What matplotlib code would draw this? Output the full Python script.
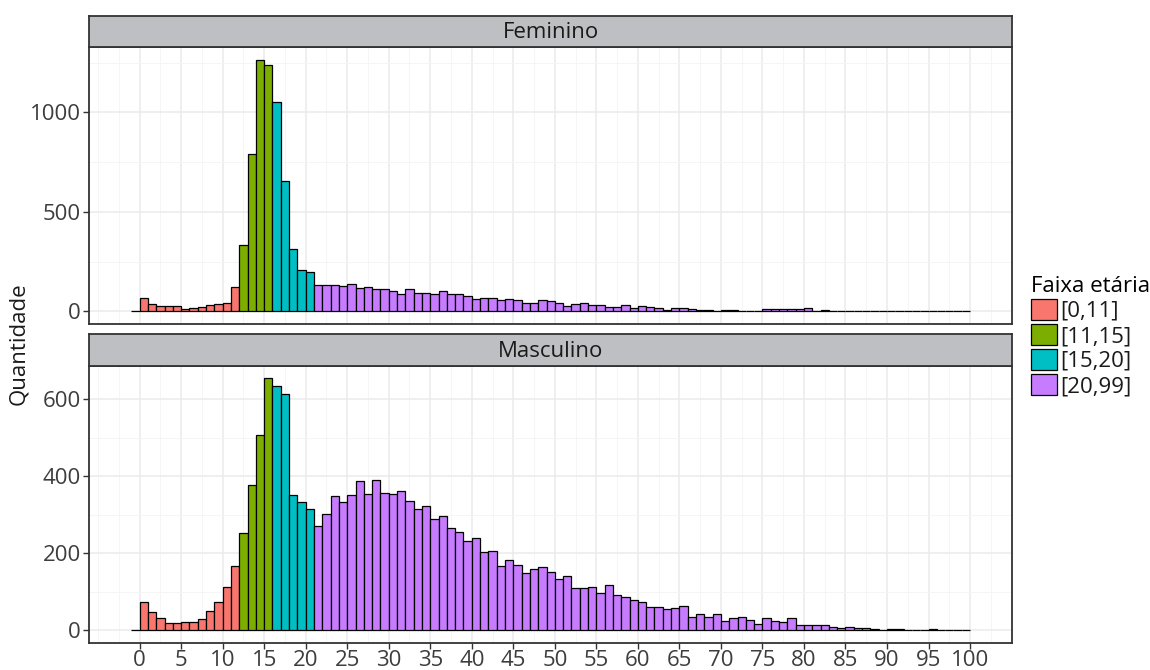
import numpy as np
import matplotlib
matplotlib.use("Agg")
import matplotlib.pyplot as plt
from matplotlib.patches import Patch
from matplotlib.ticker import MultipleLocator, FixedLocator

plt.rcParams['font.family'] = ['Open Sans', 'DejaVu Sans']

# idades (bins de largura 1, de -1 a 99)
idades = list(range(-1, 100))

feminino = [0,
    68, 35, 28, 28, 28, 10, 17, 23, 30, 35, 42, 123, 335, 793, 1265, 1238, 1050, 655, 312, 207,
    198, 135, 135, 135, 129, 136, 117, 123, 111, 111, 105, 85, 112, 95, 95, 87, 102, 87, 87, 75,
    63, 68, 68, 55, 62, 57, 43, 43, 57, 52, 42, 28, 37, 43, 30, 30, 22, 23, 33, 17,
    25, 21, 15, 9, 15, 15, 10, 5, 8, 3, 8, 8, 2, 2, 2, 10, 10, 10, 10, 10,
    16, 2, 8, 2, 2, 2, 1, 1, 1, 0, 0, 0, 0, 0, 0, 0, 0, 0, 0, 0]

masculino = [0,
    75, 49, 33, 19, 19, 22, 22, 30, 51, 75, 113, 168, 252, 377, 507, 655, 635, 614, 351, 333,
    315, 272, 303, 349, 333, 352, 387, 355, 391, 358, 355, 361, 336, 316, 323, 290, 297, 265, 255, 232,
    239, 204, 207, 168, 182, 171, 149, 159, 165, 153, 133, 142, 111, 111, 113, 98, 117, 91, 87, 79,
    75, 61, 61, 55, 58, 64, 35, 42, 34, 43, 24, 31, 34, 28, 17, 31, 25, 21, 31, 14,
    14, 14, 14, 9, 5, 9, 5, 5, 3, 1, 3, 3, 1, 1, 1, 3, 1, 1, 1, 1]

faixas = ['[0,11]', '[11,15]', '[15,20]', '[20,99]']
cores = ['#F8766D', '#7CAE00', '#00BFC4', '#C77CFF']
limites = [11, 15, 20, 99]


def cor_idade(a):
    for lim, c in zip(limites, cores):
        if a <= lim:
            return c
    return cores[-1]


bar_cores = [cor_idade(a) for a in idades]

fig = plt.figure(figsize=(11.5, 6.7), dpi=100)

x0, w = 0.0777, 0.8023
paineis = [
    ('Feminino', feminino, 0.5164, 0.4135, 0.9299, [0, 500, 1000], 250),
    ('Masculino', masculino, 0.0403, 0.4139, 0.4542, [0, 200, 400, 600], 100),
]

fs = 16
txt_col = '#3d3d3d'
borda = '#333333'

for i, (nome, vals, yb, h, ys, yticks, ymin_step) in enumerate(paineis):
    ax = fig.add_axes([x0, yb, w, h])
    ax.bar(idades, vals, width=1, align='edge', color=bar_cores,
           edgecolor='black', linewidth=0.9, zorder=3)
    vmax = max(vals)
    ax.set_ylim(-0.05 * vmax, 1.05 * vmax)
    ax.set_xlim(-1 - 0.05 * 101, 100 + 0.05 * 101)
    ax.xaxis.set_major_locator(FixedLocator(list(range(0, 101, 5))))
    ax.xaxis.set_minor_locator(FixedLocator([-5] + [v + 2.5 for v in range(-5, 101, 5)]))
    ax.yaxis.set_major_locator(FixedLocator(yticks))
    ax.yaxis.set_minor_locator(MultipleLocator(ymin_step))
    ax.grid(True, which='major', color='#EBEBEB', linewidth=1.1, zorder=0)
    ax.grid(True, which='minor', color='#F4F4F4', linewidth=0.6, zorder=0)
    ax.set_axisbelow(True)
    for s in ax.spines.values():
        s.set_color(borda)
        s.set_linewidth(1.3)
    ax.tick_params(axis='y', which='major', length=4, width=1, color=borda,
                   labelsize=fs, labelcolor=txt_col, pad=2)
    ax.tick_params(which='minor', length=0)
    if i == 0:
        ax.tick_params(axis='x', which='major', length=0, labelbottom=False)
    else:
        ax.tick_params(axis='x', which='major', length=4, width=1, color=borda,
                       labelsize=fs, labelcolor=txt_col, pad=1)

    st = fig.add_axes([x0, ys, w, 0.0467])
    st.set_facecolor('#BEBFC3')
    st.set_xticks([])
    st.set_yticks([])
    for s in st.spines.values():
        s.set_color(borda)
        s.set_linewidth(1.3)
    st.text(0.5, 0.45, nome, ha='center', va='center', fontsize=fs,
            color='#1A1A1A', transform=st.transAxes)

fig.text(0.0165, 1 - 344 / 670, 'Quantidade', rotation=90, ha='center',
         va='center', fontsize=fs, color='#1A1A1A')

handles = [Patch(facecolor=c, edgecolor='black', linewidth=0.9) for c in cores]
leg = fig.legend(handles, faixas, title='Faixa etária', loc='upper left',
                 bbox_to_anchor=(1031 / 1150, 1 - 276 / 670), frameon=False,
                 fontsize=fs, title_fontsize=fs, handlelength=1.15,
                 handleheight=1.1, labelspacing=0.08, handletextpad=0.15,
                 borderaxespad=0, borderpad=0, alignment='left')
for t in leg.get_texts():
    t.set_color('#1A1A1A')

fig.savefig('out.png', dpi=100)
